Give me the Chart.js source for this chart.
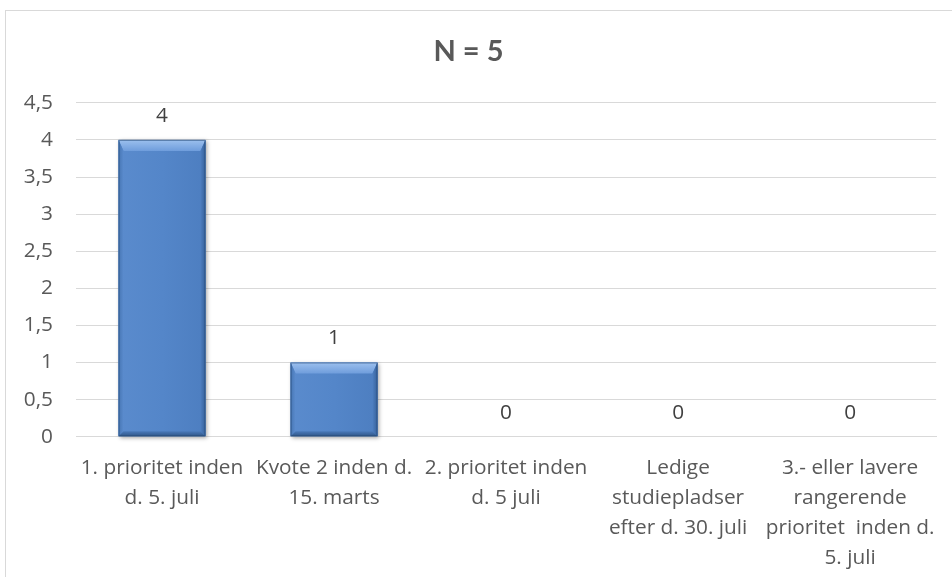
<!DOCTYPE html>
<html>
<head>
<meta charset="utf-8">
<script src="https://cdn.jsdelivr.net/npm/chart.js@4"></script>
<style>
  html, body { margin: 0; padding: 0; background: #ffffff; }
  #wrap { position: relative; width: 952px; height: 577px; }
</style>
</head>
<body>
<div id="wrap"><canvas id="c" width="952" height="577"></canvas></div>
<script>
const chartTitle = 'N = 5';
const categories = [
  ['1. prioritet inden', 'd. 5. juli'],
  ['Kvote 2 inden d.', '15. marts'],
  ['2. prioritet inden', 'd. 5 juli'],
  ['Ledige', 'studiepladser', 'efter d. 30. juli'],
  ['3.- eller lavere', 'rangerende', 'prioritet  inden d.', '5. juli']
];
const values = [4, 1, 0, 0, 0];
const yTicks = [0, 0.5, 1, 1.5, 2, 2.5, 3, 3.5, 4, 4.5];

const FONT = '"Open Sans", Lato, sans-serif';
const TFONT = 'Lato, "Open Sans", sans-serif';
const TXT = '#595959';
const FS = 20.8;

const framePlugin = {
  id: 'frame',
  beforeDraw(chart) {
    const ctx = chart.ctx;
    ctx.save();
    ctx.fillStyle = '#ffffff';
    ctx.fillRect(0, 0, chart.width, chart.height);
    ctx.strokeStyle = '#d9d9d9';
    ctx.lineWidth = 1;
    ctx.strokeRect(5.5, 10.5, 980, 700);
    ctx.restore();
  }
};

const bevelPlugin = {
  id: 'bevel',
  afterDatasetsDraw(chart) {
    const ctx = chart.ctx;
    const meta = chart.getDatasetMeta(0);
    meta.data.forEach((bar, i) => {
      const p = bar.getProps(['x', 'y', 'base', 'width'], true);
      const L = p.x - p.width / 2, R = p.x + p.width / 2;
      const T = Math.min(p.y, p.base), B = Math.max(p.y, p.base);
      const h = B - T;
      if (h < 1) return;
      const bt = Math.min(11, h / 3), bs = Math.min(5, h / 4), bb = Math.min(5, h / 4);
      ctx.save();
      ctx.shadowColor = 'rgba(0,0,0,0.35)';
      ctx.shadowBlur = 4;
      ctx.shadowOffsetX = 1.5;
      ctx.shadowOffsetY = 1.5;
      ctx.fillStyle = '#4f81c4';
      ctx.fillRect(L, T, R - L, h);
      ctx.restore();
      ctx.save();
      const g = ctx.createLinearGradient(L, 0, R, 0);
      g.addColorStop(0, '#5a8bcd');
      g.addColorStop(0.5, '#5486c9');
      g.addColorStop(1, '#4d7ec0');
      ctx.fillStyle = g;
      ctx.fillRect(L, T, R - L, h);
      const gt = ctx.createLinearGradient(0, T, 0, T + bt);
      gt.addColorStop(0, '#9cc0ee');
      gt.addColorStop(1, '#6f9ddc');
      ctx.fillStyle = gt;
      ctx.beginPath();
      ctx.moveTo(L, T); ctx.lineTo(R, T); ctx.lineTo(R - bs, T + bt); ctx.lineTo(L + bs, T + bt); ctx.closePath();
      ctx.fill();
      const gl = ctx.createLinearGradient(L, 0, L + bs, 0);
      gl.addColorStop(0, '#4675b3');
      gl.addColorStop(1, '#5a8bcd');
      ctx.fillStyle = gl;
      ctx.beginPath();
      ctx.moveTo(L, T); ctx.lineTo(L + bs, T + bt); ctx.lineTo(L + bs, B - bb); ctx.lineTo(L, B); ctx.closePath();
      ctx.fill();
      const gr = ctx.createLinearGradient(R - bs, 0, R, 0);
      gr.addColorStop(0, '#4d7ec0');
      gr.addColorStop(1, '#36619a');
      ctx.fillStyle = gr;
      ctx.beginPath();
      ctx.moveTo(R, T); ctx.lineTo(R - bs, T + bt); ctx.lineTo(R - bs, B - bb); ctx.lineTo(R, B); ctx.closePath();
      ctx.fill();
      const gb = ctx.createLinearGradient(0, B - bb, 0, B);
      gb.addColorStop(0, '#4a7aba');
      gb.addColorStop(1, '#2f5688');
      ctx.fillStyle = gb;
      ctx.beginPath();
      ctx.moveTo(L, B); ctx.lineTo(R, B); ctx.lineTo(R - bs, B - bb); ctx.lineTo(L + bs, B - bb); ctx.closePath();
      ctx.fill();
      ctx.strokeStyle = 'rgba(40,75,120,0.6)';
      ctx.lineWidth = 1;
      ctx.strokeRect(L + 0.5, T + 0.5, R - L - 1, h - 1);
      ctx.restore();
    });
  }
};

const valueLabelPlugin = {
  id: 'valueLabels',
  afterDraw(chart) {
    const ctx = chart.ctx;
    const meta = chart.getDatasetMeta(0);
    ctx.save();
    ctx.font = FS + 'px ' + FONT;
    ctx.fillStyle = '#404040';
    ctx.textAlign = 'center';
    ctx.textBaseline = 'middle';
    meta.data.forEach((bar, i) => {
      const p = bar.getProps(['x', 'y'], true);
      ctx.fillText(String(values[i]).replace('.', ','), p.x, p.y - 24);
    });
    ctx.restore();
  }
};

new Chart(document.getElementById('c'), {
  type: 'bar',
  data: {
    labels: categories,
    datasets: [{
      data: values,
      backgroundColor: 'rgba(0,0,0,0)',
      borderWidth: 0,
      categoryPercentage: 1.0,
      barPercentage: 0.505
    }]
  },
  options: {
    responsive: false,
    animation: false,
    events: [],
    layout: { padding: { left: 0, right: 15, top: 0, bottom: 0 } },
    plugins: {
      legend: { display: false },
      tooltip: { enabled: false },
      title: {
        display: true,
        text: chartTitle,
        color: TXT,
        font: { family: TFONT, size: 29, weight: 'bold', lineHeight: 1.2 },
        padding: { top: 34, bottom: 34 }
      }
    },
    scales: {
      x: {
        grid: { display: false, drawTicks: false },
        border: { display: true, color: '#d9d9d9', width: 1 },
        ticks: {
          color: TXT,
          font: { family: FONT, size: FS, lineHeight: 30 / FS },
          padding: 16,
          maxRotation: 0,
          minRotation: 0,
          autoSkip: false
        },
        afterFit(scale) { scale.height = 140.3; }
      },
      y: {
        min: 0,
        max: 4.5,
        afterBuildTicks(scale) { scale.ticks = yTicks.map(v => ({ value: v })); },
        grid: { color: '#d9d9d9', lineWidth: 1, drawTicks: false },
        border: { display: false },
        ticks: {
          color: TXT,
          font: { family: FONT, size: FS },
          padding: 23,
          callback: (v) => String(v).replace('.', ',')
        },
        afterFit(scale) { scale.width = 76; }
      }
    }
  },
  plugins: [framePlugin, bevelPlugin, valueLabelPlugin]
});
</script>
</body>
</html>
